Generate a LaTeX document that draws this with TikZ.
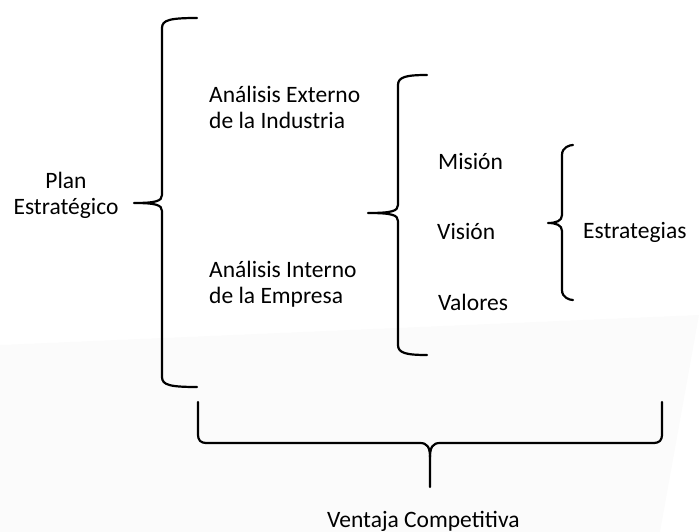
\documentclass[tikz,border=0pt]{standalone}
\usepackage{fontspec}
\setmainfont{Carlito}
\usepackage{tikz}
\usetikzlibrary{positioning}
\tikzset{>=latex}
\tikzstyle{bracestroke} = [draw = black, line width = 2.2pt, line cap = round, line join = round]
\tikzstyle{lbl} = [draw = none, inner sep = 0, anchor = west, align = left, font = \fontsize{23.5}{26}\selectfont]
% vertical brace opening to the right: x, top, middle, bottom, stub end, tip
\newcommand{\bracev}[6]{%
\draw [bracestroke] (#5,#2) .. controls ({#1+8},#2) and (#1,{#2+2}) .. (#1,{#2+10})
  -- (#1,{#3-8}) .. controls (#1,{#3-2}) and ({#1-6},#3) .. (#6,#3)
  .. controls ({#1-6},#3) and (#1,{#3+2}) .. (#1,{#3+8})
  -- (#1,{#4-10}) .. controls (#1,{#4-2}) and ({#1+8},#4) .. (#5,#4);}

\begin{document}
\begin{tikzpicture}[x = 1pt, y = -1pt]
\useasboundingbox (0,0) rectangle (699,532);
\fill [black!1.5] (0,345) -- (699,315) -- (660,532) -- (0,532) -- cycle;

\node [lbl, anchor = center, align = center] (plan) at (66,195) {Plan\\Estratégico};
\node [lbl] (ext) at (209,107) {Análisis Externo\\de la Industria};
\node [lbl] (int) at (209,284) {Análisis Interno\\de la Empresa};
\node [lbl] (mis) at (438,162) {Misión};
\node [lbl] (vis) at (437,232) {Visión};
\node [lbl] (val) at (438,302) {Valores};
\node [lbl] (est) at (583,232) {Estrategias};
\node [lbl] (ven) at (327,521) {Ventaja Competitiva};

\bracev{162}{18}{203}{387}{197}{134}
\bracev{398}{75}{213}{355}{427}{368}
\bracev{562}{145}{223}{300}{573}{548}

\draw [bracestroke] (198,402) -- (198,433) .. controls (198,441) and (200,443) .. (208,443)
  -- (420,443) .. controls (427,443) and (430,447) .. (430,457) -- (430,487);
\draw [bracestroke] (662,402) -- (662,433) .. controls (662,441) and (660,443) .. (652,443)
  -- (440,443) .. controls (433,443) and (430,447) .. (430,457);
\end{tikzpicture}
\end{document}
